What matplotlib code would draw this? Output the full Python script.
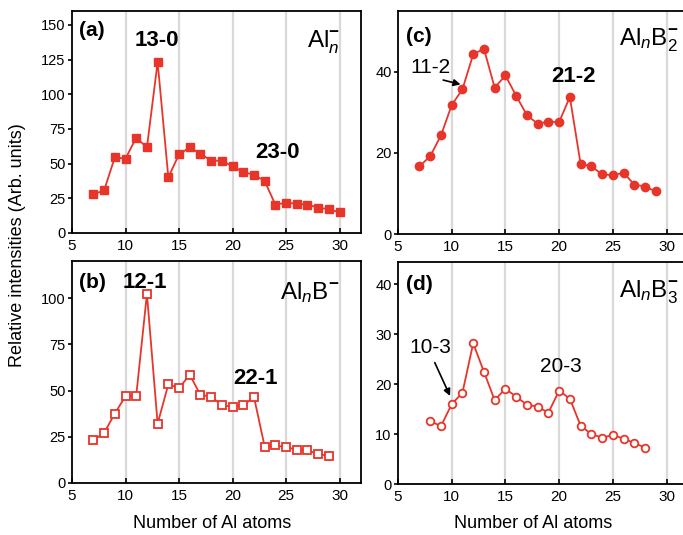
import matplotlib
matplotlib.use("Agg")
import matplotlib.pyplot as plt

plt.rcParams['font.family'] = ['Liberation Sans', 'DejaVu Sans']
plt.rcParams['mathtext.fontset'] = 'custom'
plt.rcParams['mathtext.rm'] = 'Liberation Sans'
plt.rcParams['mathtext.it'] = 'Liberation Sans:italic'
plt.rcParams['mathtext.bf'] = 'Liberation Sans:bold'

RED = '#e8352a'

# Panel (a) Al_n^-
n_a = list(range(7, 31))
v_a = [27.9, 30.7, 54.5, 53.6, 68.7, 61.7, 123.2, 40.1, 56.7, 61.7, 57.2, 52.1,
       52.1, 48.0, 43.9, 42.0, 37.5, 20.4, 21.9, 21.1, 20.4, 18.3, 17.1, 14.9]
# Panel (b) Al_nB^-
n_b = list(range(7, 30))
v_b = [23.2, 27.1, 37.5, 47.0, 47.2, 102.2, 32.1, 53.3, 51.3, 58.5, 47.6, 46.7,
       42.0, 41.3, 42.0, 46.5, 19.7, 20.3, 19.4, 18.0, 17.6, 15.6, 14.7]
# Panel (c) Al_nB2^-
n_c = list(range(7, 30))
v_c = [16.7, 19.2, 24.3, 31.8, 35.7, 44.3, 45.7, 36.1, 39.1, 34.1, 29.3, 27.2,
       27.7, 27.6, 33.8, 17.3, 16.7, 14.7, 14.5, 15.1, 12.2, 11.7, 10.5]
# Panel (d) Al_nB3^-
n_d = list(range(8, 29))
v_d = [12.6, 11.6, 16.0, 18.3, 28.2, 22.5, 16.8, 19.1, 17.5, 15.9, 15.5, 14.3,
       18.7, 17.1, 11.7, 10.0, 9.3, 9.8, 9.1, 8.2, 7.3]

x_ticks = [5, 10, 15, 20, 25, 30]
y_ticks_a = [0, 25, 50, 75, 100, 125, 150]
y_ticks_b = [0, 25, 50, 75, 100]
y_ticks_c = [0, 20, 40]
y_ticks_d = [0, 10, 20, 30, 40]

W, H = 683, 535
fig = plt.figure(figsize=(W / 100, H / 100), dpi=100)


def make_ax(left, top, bottom, width_px):
    return fig.add_axes([left / W, 1 - bottom / H, width_px / W, (bottom - top) / H])


def style(ax, yt, ylim):
    ax.set_xlim(5, 32)
    ax.set_ylim(*ylim)
    ax.set_xticks(x_ticks)
    ax.set_yticks(yt)
    for xv in x_ticks[1:]:
        ax.axvline(xv, color='#d9d9d9', lw=1.6, zorder=0)
    for s in ax.spines.values():
        s.set_linewidth(1.3)
    ax.tick_params(axis='x', direction='in', length=3.5, width=1.2, labelsize=11, pad=4)
    ax.tick_params(axis='y', direction='out', length=3, width=1.2, labelsize=10.5, pad=1.5)


ax_a = make_ax(72, 11, 233, 289)
ax_b = make_ax(72, 261, 483, 289)
ax_c = make_ax(398, 11, 234, 290)
ax_d = make_ax(398, 262, 484, 290)

style(ax_a, y_ticks_a, (0, 160))
style(ax_b, y_ticks_b, (0, 120))
style(ax_c, y_ticks_c, (0.5, 55))
style(ax_d, y_ticks_d, (0, 44.5))

lw = 1.3
ax_a.plot(n_a, v_a, color=RED, lw=lw, marker='s', ms=5.5, mfc=RED, mec=RED)
ax_b.plot(n_b, v_b, color=RED, lw=lw, marker='s', ms=5.5, mfc='white', mec=RED, mew=1.3)
ax_c.plot(n_c, v_c, color=RED, lw=lw, marker='o', ms=6, mfc=RED, mec=RED)
ax_d.plot(n_d, v_d, color=RED, lw=lw, marker='o', ms=5.5, mfc='white', mec=RED, mew=1.3)


def ftext(x, y, s, **kw):
    fig.text(x / W, 1 - y / H, s, **kw)


# panel labels
for x, y, s in [(79, 30, '(a)'), (79, 283, '(b)'), (406, 37, '(c)'), (406, 285, '(d)')]:
    ftext(x, y, s, fontsize=15, fontweight='bold', va='center', ha='left')

# species labels
ftext(340, 42, r'Al$_{\mathit{n}}^{\mathbf{-}}$', fontsize=17.5, ha='right', va='center')
ftext(340, 293, r'Al$_{\mathit{n}}$B$^{\mathbf{-}}$', fontsize=17.5, ha='right', va='center')
ftext(679, 40, r'Al$_{\mathit{n}}$B$_{2}^{\mathbf{-}}$', fontsize=17.5, ha='right', va='center')
ftext(679, 292, r'Al$_{\mathit{n}}$B$_{3}^{\mathbf{-}}$', fontsize=17.5, ha='right', va='center')

# bold peak labels
ftext(157, 40, '13-0', fontsize=16, fontweight='bold', ha='center', va='center')
ftext(277, 152, '23-0', fontsize=16, fontweight='bold', ha='center', va='center')
ftext(145, 283, '12-1', fontsize=16, fontweight='bold', ha='center', va='center')
ftext(255, 378, '22-1', fontsize=16, fontweight='bold', ha='center', va='center')
ftext(573, 76, '21-2', fontsize=16, fontweight='bold', ha='center', va='center')
ftext(561, 367, '20-3', fontsize=15, ha='center', va='center')

# annotations with arrows
ax_c.annotate('11-2', xy=(10.95, 36.8), xytext=(8.0, 41.0),
              fontsize=15, ha='center', va='center',
              arrowprops=dict(arrowstyle='-|>', color='black', lw=1.2,
                              shrinkA=0, shrinkB=1, mutation_scale=10,
                              relpos=(0.55, 0.0)))
ax_d.annotate('10-3', xy=(9.9, 17.4), xytext=(8.0, 27.3),
              fontsize=15, ha='center', va='center',
              arrowprops=dict(arrowstyle='-|>', color='black', lw=1.2,
                              shrinkA=2, shrinkB=1, mutation_scale=10,
                              relpos=(0.55, 0.0)))

# axis labels
ftext(212, 523, 'Number of Al atoms', fontsize=13, ha='center', va='center')
ftext(533, 523, 'Number of Al atoms', fontsize=13, ha='center', va='center')
ftext(18, 245, 'Relative intensities (Arb. units)', fontsize=13, ha='center',
      va='center', rotation=90)

fig.savefig('out.png', dpi=100)
